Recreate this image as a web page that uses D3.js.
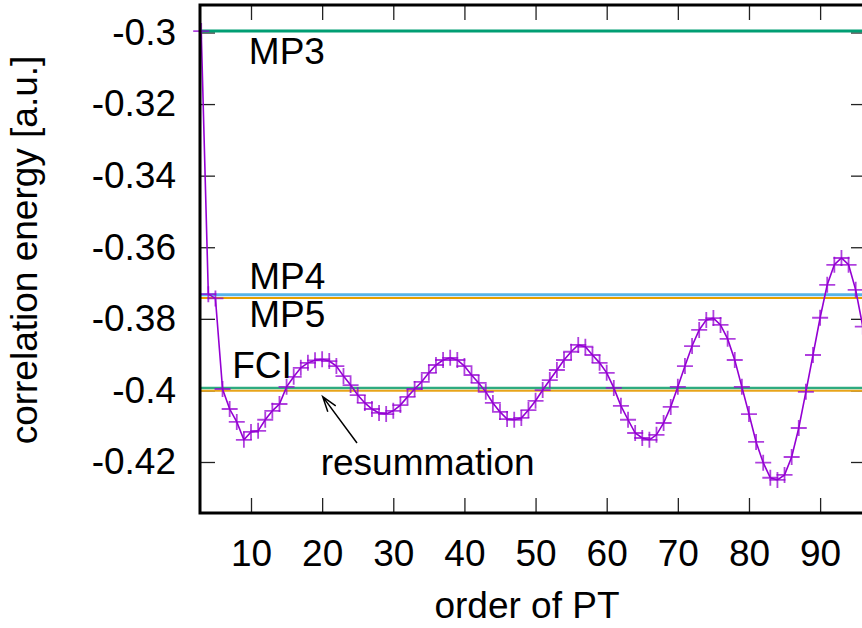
<!DOCTYPE html>
<html>
<head>
<meta charset="utf-8">
<script src="https://cdn.jsdelivr.net/npm/d3@7"></script>
<style>
  body { margin: 0; background: #fff; }
  svg { display: block; }
</style>
</head>
<body>
<div class="canvas"></div>
<script>
// correlation energy for each order of PT, starting at order 3
const firstOrder = 3
const energies = [
  -0.2996, -0.3731, -0.3743, -0.3996, -0.4052, -0.4088, -0.4138, -0.4116, -0.4113, -0.4082,
  -0.4057, -0.4038, -0.3990, -0.3962, -0.3937, -0.3923, -0.3916, -0.3913, -0.3918, -0.3932,
  -0.3960, -0.3985, -0.4013, -0.4035, -0.4052, -0.4063, -0.4066, -0.4057, -0.4041, -0.4018,
  -0.3996, -0.3976, -0.3951, -0.3929, -0.3915, -0.3909, -0.3915, -0.3932, -0.3957, -0.3979,
  -0.4004, -0.4035, -0.4060, -0.4080, -0.4082, -0.4077, -0.4055, -0.4029, -0.3999, -0.3971,
  -0.3943, -0.3915, -0.3892, -0.3873, -0.3878, -0.3901, -0.3923, -0.3951, -0.3993, -0.4043,
  -0.4082, -0.4119, -0.4133, -0.4138, -0.4124, -0.4091, -0.4046, -0.3990, -0.3932, -0.3876,
  -0.3831, -0.3803, -0.3798, -0.3817, -0.3856, -0.3915, -0.3990, -0.4066, -0.4144, -0.4202,
  -0.4244, -0.4250, -0.4236, -0.4186, -0.4105, -0.4004, -0.3901, -0.3797, -0.3705, -0.3649,
  -0.3630, -0.3649, -0.3719, -0.3822
]

// reference levels
const refNames = ['MP3', 'MP4', 'MP5', 'FCI', 'resummation']
const refValues = [-0.2996, -0.3733, -0.3742, -0.3993, -0.4001]
const refColors = ['#009e73', '#56b4e9', '#e69f00', '#2eab80', '#e8a41a']
const refWidths = [3, 3, 2, 2.5, 2]

// tick labels
const xTicks = [10, 20, 30, 40, 50, 60, 70, 80, 90]
const yTicks = [-0.3, -0.32, -0.34, -0.36, -0.38, -0.4, -0.42]

// text labels placed in data coordinates
const labels = [
  { text: 'MP3', x: 9.7, y: -0.3088 },
  { text: 'MP4', x: 9.75, y: -0.37175 },
  { text: 'MP5', x: 9.75, y: -0.38237 },
  { text: 'FCI', x: 7.35, y: -0.39661 },
  { text: 'resummation', x: 19.8, y: -0.42363 }
]
const arrowFrom = [24.9, -0.41469], arrowTo = [20.08, -0.40175]

const svgWidth = 862, svgHeight = 628
const plot = { left: 200, right: 866, top: 5, bottom: 513 }
const font = "'Liberation Sans', Arial, Helvetica, sans-serif"
const fontSize = 37

const svg = d3.select('.canvas')
  .append('svg')
  .attr('width', svgWidth)
  .attr('height', svgHeight)
  .style('font-family', font)

const x = d3.scaleLinear().domain([2.83, 96.45]).range([plot.left, plot.right])
const y = d3.scaleLinear().domain([-0.29232, -0.43425]).range([plot.top, plot.bottom])

const data = energies.map((e, i) => ({ order: firstOrder + i, energy: e }))

svg.append('clipPath').attr('id', 'clip')
  .append('rect')
  .attr('x', plot.left).attr('y', plot.top)
  .attr('width', plot.right - plot.left).attr('height', plot.bottom - plot.top)

// axes (ticks point inward, mirrored on top and right)
const styleAxis = g => {
  g.select('.domain').remove()
  g.selectAll('line').attr('stroke', '#222').attr('stroke-width', 1.3)
  g.selectAll('text')
    .attr('font-size', fontSize)
    .attr('font-family', font)
    .attr('fill', '#000')
}

svg.append('g')
  .attr('transform', `translate(0, ${plot.bottom})`)
  .call(d3.axisBottom(x).tickValues(xTicks).tickSizeInner(-15).tickSizeOuter(0).tickPadding(27))
  .call(styleAxis)

svg.append('g')
  .attr('transform', `translate(0, ${plot.top})`)
  .call(d3.axisTop(x).tickValues(xTicks).tickSizeInner(-15).tickSizeOuter(0).tickFormat(''))
  .call(styleAxis)

svg.append('g')
  .attr('transform', `translate(${plot.left}, 0)`)
  .call(d3.axisLeft(y).tickValues(yTicks).tickSizeInner(-15).tickSizeOuter(0).tickPadding(24)
    .tickFormat(d => String(d).replace('-', '-')))
  .call(styleAxis)

svg.append('g')
  .attr('transform', `translate(${plot.right}, 0)`)
  .call(d3.axisRight(y).tickValues(yTicks).tickSizeInner(-15).tickSizeOuter(0).tickFormat(''))
  .call(styleAxis)

// reference lines
svg.append('g')
  .attr('clip-path', 'url(#clip)')
  .selectAll('line')
  .data(refValues)
  .enter()
  .append('line')
  .attr('x1', plot.left)
  .attr('x2', plot.right)
  .attr('y1', d => y(d))
  .attr('y2', d => y(d))
  .attr('stroke', (d, i) => refColors[i])
  .attr('stroke-width', (d, i) => refWidths[i])

// data line
const line = d3.line()
  .x(d => x(d.order))
  .y(d => y(d.energy))

svg.append('path')
  .datum(data)
  .attr('clip-path', 'url(#clip)')
  .attr('fill', 'none')
  .attr('stroke', '#9400d3')
  .attr('stroke-width', 1.6)
  .attr('d', line)

// + markers
const arm = 8
svg.append('g')
  .selectAll('path')
  .data(data)
  .enter()
  .append('path')
  .attr('d', d => {
    const cx = x(d.order), cy = y(d.energy)
    return `M${cx - arm},${cy}H${cx + arm}M${cx},${cy - arm}V${cy + arm}`
  })
  .attr('stroke', '#9400d3')
  .attr('stroke-opacity', 0.75)
  .attr('stroke-width', 1.8)

// labels
svg.append('g')
  .selectAll('text')
  .data(labels)
  .enter()
  .append('text')
  .attr('x', d => x(d.x))
  .attr('y', d => y(d.y))
  .attr('font-size', fontSize)
  .attr('fill', '#000')
  .text(d => d.text)

// arrow to the resummation line
const ax1 = x(arrowFrom[0]), ay1 = y(arrowFrom[1])
const ax2 = x(arrowTo[0]), ay2 = y(arrowTo[1])
const ang = Math.atan2(ay2 - ay1, ax2 - ax1)
const headLen = 16, headAng = Math.PI / 10
svg.append('path')
  .attr('d', `M${ax1},${ay1}L${ax2},${ay2}` +
    `M${ax2 - headLen * Math.cos(ang - headAng)},${ay2 - headLen * Math.sin(ang - headAng)}` +
    `L${ax2},${ay2}` +
    `L${ax2 - headLen * Math.cos(ang + headAng)},${ay2 - headLen * Math.sin(ang + headAng)}`)
  .attr('fill', 'none')
  .attr('stroke', '#000')
  .attr('stroke-width', 1.5)

// border
svg.append('rect')
  .attr('x', plot.left)
  .attr('y', plot.top)
  .attr('width', plot.right - plot.left)
  .attr('height', plot.bottom - plot.top)
  .attr('fill', 'none')
  .attr('stroke', '#000')
  .attr('stroke-width', 3)

// axis titles
svg.append('text')
  .attr('x', (plot.left + 862) / 2 - 4)
  .attr('y', 618)
  .attr('text-anchor', 'middle')
  .attr('font-size', fontSize)
  .text('order of PT')

svg.append('text')
  .attr('transform', 'translate(37, 250) rotate(-90)')
  .attr('text-anchor', 'middle')
  .attr('font-size', fontSize)
  .text('correlation energy [a.u.]')
</script>
</body>
</html>
